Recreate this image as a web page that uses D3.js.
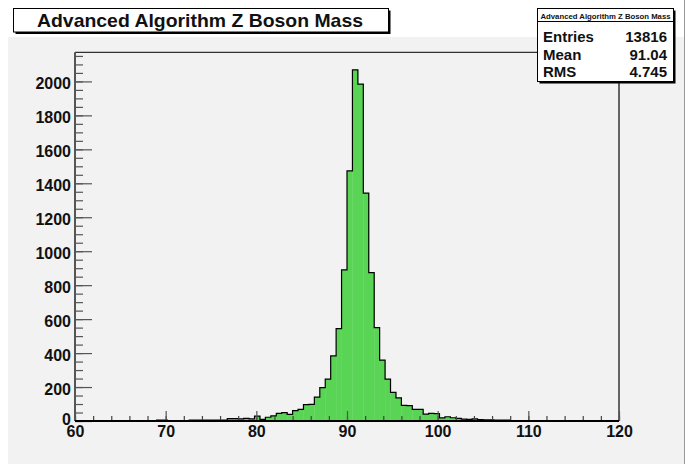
<!DOCTYPE html>
<html>
<head>
<meta charset="utf-8">
<script src="https://cdn.jsdelivr.net/npm/d3@7"></script>
<style>
  body { margin: 0; background: #fff; }
  svg { display: block; font-family: "Liberation Sans", Arial, sans-serif; font-weight: bold; }
</style>
</head>
<body>
<div class="chart"></div>
<script>
// histogram: 100 bins from 60 to 120
var binLow = 60, binHigh = 120;
var counts = [
  2, 1, 1, 3, 2, 1, 1, 3, 1, 1,
  3, 1, 1, 3, 1, 6, 6, 1, 2, 1,
  2, 6, 6, 6, 5, 5, 5, 5, 14, 14,
  12, 16, 12, 29, 10, 22, 30, 45, 49, 39,
  61, 69, 96, 98, 141, 197, 247, 383, 544, 890,
  1473, 2068, 1984, 1342, 874, 550, 359, 247, 168, 136,
  92, 90, 69, 69, 40, 45, 44, 18, 25, 19,
  16, 11, 10, 12, 8, 7, 7, 6, 5, 5,
  3, 3, 2, 2, 3, 1, 2, 1, 1, 1,
  0, 1, 1, 0, 1, 0, 1, 1, 0, 1
];
var title = "Advanced Algorithm Z Boson Mass";
var statLabels = ["Entries", "Mean", "RMS"];
var statValues = ["13816", "91.04", "4.745"];
var xTicks = [60, 70, 80, 90, 100, 110, 120];
var yTicks = [0, 200, 400, 600, 800, 1000, 1200, 1400, 1600, 1800, 2000];

var width = 690, height = 464;
var svg = d3.select(".chart").append("svg")
  .attr("width", width)
  .attr("height", height);

var frame = {left: 75, right: 619, top: 52.3, bottom: 421};
var binWidth = (binHigh - binLow) / counts.length;
var yMax = d3.max(counts) * 1.05;

var x = d3.scaleLinear().domain([binLow, binHigh]).range([frame.left, frame.right]);
var y = d3.scaleLinear().domain([0, yMax]).range([frame.bottom, frame.top]);

// pad background
svg.append("rect")
  .attr("x", 8).attr("y", 37)
  .attr("width", 676).attr("height", height - 37)
  .attr("fill", "#f2f2f2");
svg.append("line")
  .attr("x1", 684.5).attr("x2", 684.5)
  .attr("y1", 0).attr("y2", height)
  .attr("stroke", "#999").attr("stroke-width", 1);

// histogram bars
var bins = counts.map(function(c, i) {
  return {x0: binLow + i * binWidth, x1: binLow + (i + 1) * binWidth, n: c};
});

svg.append("g").selectAll("rect")
  .data(bins)
  .enter().append("rect")
  .attr("x", function(d) { return x(d.x0); })
  .attr("y", function(d) { return y(d.n); })
  .attr("width", function(d) { return x(d.x1) - x(d.x0) + 0.3; })
  .attr("height", function(d) { return y(0) - y(d.n); })
  .attr("fill", "#59d454");

// outline as steps
var pts = [[x(binLow), y(0)]];
bins.forEach(function(d) {
  pts.push([x(d.x0), y(d.n)]);
  pts.push([x(d.x1), y(d.n)]);
});
pts.push([x(binHigh), y(0)]);
svg.append("path")
  .attr("d", d3.line()(pts))
  .attr("fill", "none")
  .attr("stroke", "#000")
  .attr("stroke-width", 1.2);

// frame
svg.append("line")
  .attr("x1", frame.left).attr("x2", frame.right)
  .attr("y1", frame.top).attr("y2", frame.top)
  .attr("stroke", "#000").attr("stroke-width", 1);
svg.append("line")
  .attr("x1", frame.right).attr("x2", frame.right)
  .attr("y1", frame.top).attr("y2", frame.bottom)
  .attr("stroke", "#555").attr("stroke-width", 1.8);

// y axis
var yMinor = d3.range(0, yMax, 50);
svg.append("g")
  .attr("transform", "translate(" + frame.left + ",0)")
  .call(d3.axisLeft(y).tickValues(yMinor).tickSizeInner(-8).tickSizeOuter(0).tickFormat(""))
  .call(function(g) { g.select(".domain").remove(); })
  .selectAll("line").attr("stroke", "#555").attr("stroke-width", 1.2);

var gy = svg.append("g")
  .attr("transform", "translate(" + frame.left + ",0)")
  .call(d3.axisLeft(y).tickValues(yTicks).tickFormat(d3.format("d"))
    .tickSizeInner(-17).tickSizeOuter(0).tickPadding(4));
gy.select(".domain").remove();
gy.selectAll("line").attr("stroke", "#555").attr("stroke-width", 1.2);
gy.selectAll("text")
  .attr("font-size", 16)
  .attr("font-family", "Liberation Sans, Arial, sans-serif")
  .attr("font-weight", "bold")
  .attr("fill", "#111")
  .attr("dy", function(d) { return d === 0 ? "0.2em" : "0.45em"; });

svg.append("line")
  .attr("x1", frame.left).attr("x2", frame.left)
  .attr("y1", frame.top).attr("y2", frame.bottom)
  .attr("stroke", "#555").attr("stroke-width", 2);

// x axis
var xMinor = d3.range(binLow, binHigh + 0.001, 2);
svg.append("g")
  .attr("transform", "translate(0," + frame.bottom + ")")
  .call(d3.axisBottom(x).tickValues(xMinor).tickSizeInner(-5).tickSizeOuter(0).tickFormat(""))
  .call(function(g) { g.select(".domain").remove(); })
  .selectAll("line").attr("stroke", "#444").attr("stroke-width", 1.2);

var gx = svg.append("g")
  .attr("transform", "translate(0," + frame.bottom + ")")
  .call(d3.axisBottom(x).tickValues(xTicks).tickSizeInner(-10).tickSizeOuter(0).tickPadding(5));
gx.select(".domain").remove();
gx.selectAll("line").attr("stroke", "#555").attr("stroke-width", 1.2);
gx.selectAll("text")
  .attr("font-size", 16)
  .attr("font-family", "Liberation Sans, Arial, sans-serif")
  .attr("font-weight", "bold")
  .attr("fill", "#111");

svg.append("line")
  .attr("x1", frame.left).attr("x2", frame.right)
  .attr("y1", frame.bottom).attr("y2", frame.bottom)
  .attr("stroke", "#000").attr("stroke-width", 1.8);

// title box
svg.append("rect")
  .attr("x", 15.5).attr("y", 10.5).attr("width", 375).attr("height", 23.5)
  .attr("fill", "#000");
svg.append("rect")
  .attr("x", 13.5).attr("y", 8.5).attr("width", 375).attr("height", 23.5)
  .attr("fill", "#fff").attr("stroke", "#000").attr("stroke-width", 1);
svg.append("text")
  .attr("x", 200).attr("y", 27)
  .attr("text-anchor", "middle")
  .attr("font-size", 19)
  .attr("textLength", 326)
  .attr("lengthAdjust", "spacingAndGlyphs")
  .attr("fill", "#111")
  .text(title);

// stats box
var sb = {x: 537.5, y: 8.5, w: 136, h: 73};
svg.append("rect")
  .attr("x", sb.x + 2).attr("y", sb.y + 2).attr("width", sb.w).attr("height", sb.h)
  .attr("fill", "#000");
svg.append("rect")
  .attr("x", sb.x).attr("y", sb.y).attr("width", sb.w).attr("height", sb.h)
  .attr("fill", "#fff").attr("stroke", "#000").attr("stroke-width", 1);
svg.append("line")
  .attr("x1", sb.x).attr("x2", sb.x + sb.w)
  .attr("y1", 21.5).attr("y2", 21.5)
  .attr("stroke", "#000").attr("stroke-width", 1);
svg.append("text")
  .attr("x", sb.x + sb.w / 2).attr("y", 18.5)
  .attr("text-anchor", "middle")
  .attr("font-size", 8)
  .attr("textLength", 130)
  .attr("lengthAdjust", "spacingAndGlyphs")
  .attr("fill", "#111")
  .text(title);

var rowY = d3.scalePoint().domain(statLabels).range([41.7, 77.3]);
svg.append("g").selectAll("text")
  .data(statLabels)
  .enter().append("text")
  .attr("x", 543)
  .attr("y", function(d) { return rowY(d); })
  .attr("font-size", 15)
  .attr("fill", "#111")
  .text(function(d) { return d; });
svg.append("g").selectAll("text")
  .data(statValues)
  .enter().append("text")
  .attr("x", 667)
  .attr("y", function(d, i) { return rowY(statLabels[i]); })
  .attr("text-anchor", "end")
  .attr("font-size", 15)
  .attr("fill", "#111")
  .text(function(d) { return d; });
</script>
</body>
</html>
